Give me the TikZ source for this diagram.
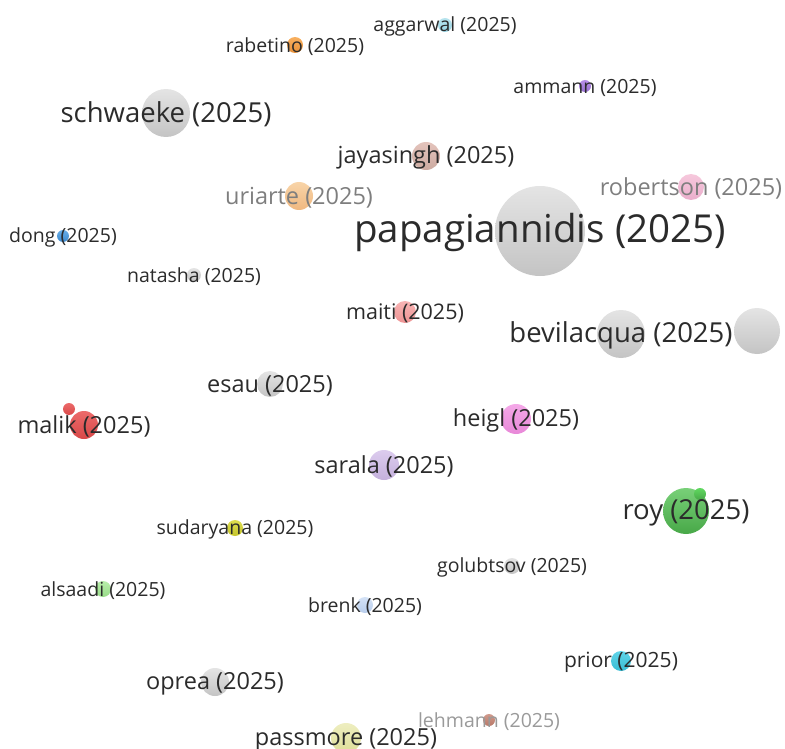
\documentclass[tikz,border=0pt]{standalone}
\usepackage{fontspec}
\setmainfont{Open Sans}
\usepackage{xcolor}
\usepackage{tikz}

%text colours
\definecolor{labeldark}{HTML}{2B2B2B}
\definecolor{labelfade}{HTML}{7E7E7E}
\definecolor{labellight}{HTML}{9A9A9A}

%bubble colours (top, bottom)
\definecolor{greyT}{HTML}{E4E4E4}	\definecolor{greyB}{HTML}{C4C4C4}
\definecolor{aggarwalT}{HTML}{B8E4EE}	\definecolor{aggarwalB}{HTML}{98D4E4}
\definecolor{rabetinoT}{HTML}{F8B060}	\definecolor{rabetinoB}{HTML}{E89038}
\definecolor{ammannT}{HTML}{B890E8}	\definecolor{ammannB}{HTML}{9870D0}
\definecolor{jayasinghT}{HTML}{E4C4BC}	\definecolor{jayasinghB}{HTML}{CCAAA0}
\definecolor{uriarteT}{HTML}{F8D4A8}	\definecolor{uriarteB}{HTML}{F0B880}
\definecolor{robertsonT}{HTML}{F6C8DC}	\definecolor{robertsonB}{HTML}{EAAECC}
\definecolor{dongT}{HTML}{68AEE8}	\definecolor{dongB}{HTML}{3C88CC}
\definecolor{maitiT}{HTML}{F8B4B4}	\definecolor{maitiB}{HTML}{EE9494}
\definecolor{malikT}{HTML}{EC6A6A}	\definecolor{malikB}{HTML}{D84848}
\definecolor{heiglT}{HTML}{F4A8E8}	\definecolor{heiglB}{HTML}{E888D8}
\definecolor{saralaT}{HTML}{DCCCEE}	\definecolor{saralaB}{HTML}{C4B0DC}
\definecolor{royT}{HTML}{78D078}	\definecolor{royB}{HTML}{48A848}
\definecolor{sudaryanaT}{HTML}{DEDE50}	\definecolor{sudaryanaB}{HTML}{C4C42C}
\definecolor{alsaadiT}{HTML}{B8EEAA}	\definecolor{alsaadiB}{HTML}{98DC88}
\definecolor{brenkT}{HTML}{D4E2F6}	\definecolor{brenkB}{HTML}{B8CDEC}
\definecolor{priorT}{HTML}{60D4E8}	\definecolor{priorB}{HTML}{38BCD4}
\definecolor{lehmannT}{HTML}{D09A8C}	\definecolor{lehmannB}{HTML}{B87868}
\definecolor{passmoreT}{HTML}{EEEEC0}	\definecolor{passmoreB}{HTML}{DEDE98}

\tikzset{
	bubble/.style={circle, inner sep=0pt, minimum size=#1},
	ball/.style={top color=#1T, bottom color=#1B},
	author/.style={text=labeldark, inner sep=0pt, yshift=-1.5pt},
	authsmall/.style={author, font=\fontsize{19.5}{20}\selectfont},
	authmid/.style={author, font=\fontsize{23.5}{24}\selectfont},
	authbig/.style={author, font=\fontsize{27.5}{28}\selectfont},
	authhuge/.style={author, font=\fontsize{38.5}{40}\selectfont},
}

\begin{document}
\begin{tikzpicture}[x=1pt, y=-1pt]
		\useasboundingbox (0,0) rectangle (785,749);
		
		%positions of the documents
		\coordinate (c aggarwal) at (445,25);
		\coordinate (c rabetino) at (295,45);
		\coordinate (c ammann) at (585,86);
		\coordinate (c schwaeke) at (166,113);
		\coordinate (c jayasingh) at (426,156);
		\coordinate (c uriarte) at (299,196);
		\coordinate (c robertson) at (691,187);
		\coordinate (c papagiannidis) at (540,231);
		\coordinate (c dong) at (63,236);
		\coordinate (c natasha) at (194,275);
		\coordinate (c maiti) at (405,312);
		\coordinate (c bevilacqua) at (621,334);
		\coordinate (c esau) at (270,384);
		\coordinate (c malik) at (84,425);
		\coordinate (c heigl) at (516,419);
		\coordinate (c sarala) at (384,465);
		\coordinate (c roy) at (686,511);
		\coordinate (c sudaryana) at (235,528);
		\coordinate (c golubtsov) at (512,566);
		\coordinate (c alsaadi) at (103,589);
		\coordinate (c brenk) at (365,605);
		\coordinate (c prior) at (621,661);
		\coordinate (c oprea) at (215,682);
		\coordinate (c lehmann) at (489,720);
		\coordinate (c passmore) at (346,738);
		
		%bubbles
		\node [bubble=14, ball=aggarwal] (aggarwal) at (c aggarwal) {};
		\node [bubble=16, ball=rabetino] (rabetino) at (c rabetino) {};
		\node [bubble=12, ball=ammann] (ammann) at (c ammann) {};
		\node [bubble=48, ball=grey] (schwaeke) at (c schwaeke) {};
		\node [bubble=28, ball=jayasingh] (jayasingh) at (c jayasingh) {};
		\node [bubble=28, ball=uriarte] (uriarte) at (c uriarte) {};
		\node [bubble=26, ball=robertson] (robertson) at (c robertson) {};
		\node [bubble=90, ball=grey] (papagiannidis) at (c papagiannidis) {};
		\node [bubble=12, ball=dong] (dong) at (c dong) {};
		\node [bubble=14, ball=grey] (natasha) at (c natasha) {};
		\node [bubble=22, ball=maiti] (maiti) at (c maiti) {};
		\node [bubble=48, ball=grey] (bevilacqua) at (c bevilacqua) {};
		\node [bubble=46, ball=grey] (bevilacqua twin) at (757,331) {};
		\node [bubble=26, ball=grey] (esau) at (c esau) {};
		\node [bubble=12, ball=malik] (malik small) at (69,409) {};
		\node [bubble=28, ball=malik] (malik) at (c malik) {};
		\node [bubble=30, ball=heigl] (heigl) at (c heigl) {};
		\node [bubble=30, ball=sarala] (sarala) at (c sarala) {};
		\node [bubble=46, ball=roy] (roy) at (c roy) {};
		\node [bubble=12, top color=royT!80!green, bottom color=royB] (roy small) at (700,494) {};
		\node [bubble=16, ball=sudaryana] (sudaryana) at (c sudaryana) {};
		\node [bubble=16, ball=grey] (golubtsov) at (c golubtsov) {};
		\node [bubble=16, ball=alsaadi] (alsaadi) at (c alsaadi) {};
		\node [bubble=16, ball=brenk] (brenk) at (c brenk) {};
		\node [bubble=20, ball=prior] (prior) at (c prior) {};
		\node [bubble=28, ball=grey] (oprea) at (c oprea) {};
		\node [bubble=12, ball=lehmann] (lehmann) at (c lehmann) {};
		\node [bubble=30, ball=passmore] (passmore) at (c passmore) {};
		
		%labels
		\node [authsmall] (aggarwal label) at (c aggarwal) {aggarwal (2025)};
		\node [authsmall] (rabetino label) at (c rabetino) {rabetino (2025)};
		\node [authsmall] (ammann label) at (c ammann) {ammann (2025)};
		\node [authbig] (schwaeke label) at (c schwaeke) {schwaeke (2025)};
		\node [authmid] (jayasingh label) at (c jayasingh) {jayasingh (2025)};
		\node [authmid, text=labelfade] (uriarte label) at (c uriarte) {uriarte (2025)};
		\node [authmid, text=labelfade] (robertson label) at (c robertson) {robertson (2025)};
		\node [authhuge] (papagiannidis label) at (c papagiannidis) {papagiannidis (2025)};
		\node [authsmall] (dong label) at (c dong) {dong (2025)};
		\node [authsmall] (natasha label) at (c natasha) {natasha (2025)};
		\node [authsmall, font=\fontsize{21.5}{22}\selectfont] (maiti label) at (c maiti) {maiti (2025)};
		\node [authbig] (bevilacqua label) at (c bevilacqua) {bevilacqua (2025)};
		\node [authmid] (esau label) at (c esau) {esau (2025)};
		\node [authmid] (malik label) at (c malik) {malik (2025)};
		\node [authmid] (heigl label) at (c heigl) {heigl (2025)};
		\node [authmid] (sarala label) at (c sarala) {sarala (2025)};
		\node [authbig] (roy label) at (c roy) {roy (2025)};
		\node [authsmall] (sudaryana label) at (c sudaryana) {sudaryana (2025)};
		\node [authsmall] (golubtsov label) at (c golubtsov) {golubtsov (2025)};
		\node [authsmall] (alsaadi label) at (c alsaadi) {alsaadi (2025)};
		\node [authsmall] (brenk label) at (c brenk) {brenk (2025)};
		\node [authsmall, font=\fontsize{21}{22}\selectfont] (prior label) at (c prior) {prior (2025)};
		\node [authmid] (oprea label) at (c oprea) {oprea (2025)};
		\node [authsmall, text=labellight] (lehmann label) at (c lehmann) {lehmann (2025)};
		\node [authmid] (passmore label) at (c passmore) {passmore (2025)};
	\end{tikzpicture}
\end{document}
